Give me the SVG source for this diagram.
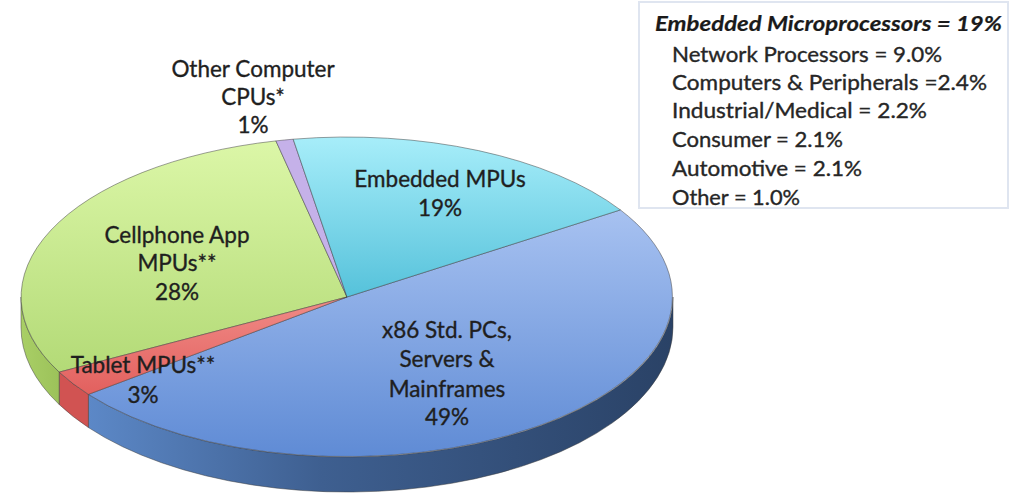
<svg xmlns="http://www.w3.org/2000/svg" width="1017" height="496" viewBox="0 0 1017 496">
  <defs>
    <style>
      .lbl { font-family: Lato, "Open Sans", "Liberation Sans", sans-serif; font-size: 22.5px; fill: #1f1f1f; stroke: #1f1f1f; stroke-width: 0.35; text-anchor: middle; }
      .leg { font-family: Lato, "Open Sans", "Liberation Sans", sans-serif; font-size: 21px; fill: #262626; stroke: #262626; stroke-width: 0.35; }
      .legT { font-weight: bold; font-style: italic; fill: #1a1a1a; stroke-width: 0.2; }
      .edge { stroke: #3d3d3d; stroke-opacity: 0.55; stroke-width: 0.9; stroke-linejoin: round; }
    </style>
    <!-- top-face fills -->
    <linearGradient id="gBlueTop" gradientUnits="userSpaceOnUse" x1="0" y1="190" x2="0" y2="457">
      <stop offset="0" stop-color="#adc6f3"/>
      <stop offset="1" stop-color="#5f8bd5"/>
    </linearGradient>
    <linearGradient id="gCyanTop" gradientUnits="userSpaceOnUse" x1="0" y1="135" x2="0" y2="300">
      <stop offset="0" stop-color="#a8eefa"/>
      <stop offset="1" stop-color="#54c1da"/>
    </linearGradient>
    <linearGradient id="gGreenTop" gradientUnits="userSpaceOnUse" x1="0" y1="138" x2="0" y2="390">
      <stop offset="0" stop-color="#dcf7a8"/>
      <stop offset="1" stop-color="#b0d873"/>
    </linearGradient>
    <linearGradient id="gRedTop" gradientUnits="userSpaceOnUse" x1="0" y1="300" x2="0" y2="395">
      <stop offset="0" stop-color="#f08a86"/>
      <stop offset="1" stop-color="#e2605e"/>
    </linearGradient>
    <!-- side fills -->
    <linearGradient id="gBlueSide" gradientUnits="userSpaceOnUse" x1="88" y1="0" x2="673" y2="0">
      <stop offset="0" stop-color="#5c88c7"/>
      <stop offset="0.4" stop-color="#3e5f90"/>
      <stop offset="1" stop-color="#2a4266"/>
    </linearGradient>
    <linearGradient id="gGreenSide" gradientUnits="userSpaceOnUse" x1="21" y1="0" x2="59" y2="0">
      <stop offset="0" stop-color="#a9cf66"/>
      <stop offset="1" stop-color="#9cc25a"/>
    </linearGradient>
  </defs>

  <rect width="1017" height="496" fill="#ffffff"/>

  <!-- pie rim (front side walls) -->
  <g id="pie-sides" class="edge">
    <path d="M673,297 A326,160 0 0 1 88.4,394.4 L88.4,427.5 A326,165 0 0 0 673,327 Z" fill="url(#gBlueSide)"/>
    <path d="M88.4,394.4 A326,160 0 0 1 59.2,372.1 L59.2,404.5 A326,165 0 0 0 88.4,427.5 Z" fill="#d15352"/>
    <path d="M59.2,372.1 A326,160 0 0 1 21,297 L21,327 A326,165 0 0 0 59.2,404.5 Z" fill="url(#gGreenSide)"/>
  </g>

  <!-- x86 slice, 49% -->
  <g id="slice-x86">
    <path class="edge" d="M347,297 L620.4,209.9 A326,160 0 0 1 88.4,394.4 Z" fill="url(#gBlueTop)"/>
    <text class="lbl" x="447" y="338">x86 Std. PCs,</text>
    <text class="lbl" x="447" y="367">Servers &amp;</text>
    <text class="lbl" x="447" y="397">Mainframes</text>
    <text class="lbl" x="447" y="425">49%</text>
  </g>

  <!-- cellphone slice, 28% -->
  <g id="slice-cellphone">
    <path class="edge" d="M347,297 L59.2,372.1 A326,160 0 0 1 275.9,140.9 Z" fill="url(#gGreenTop)"/>
    <text class="lbl" x="177" y="243">Cellphone App</text>
    <text class="lbl" x="177" y="271">MPUs**</text>
    <text class="lbl" x="177" y="300">28%</text>
  </g>

  <!-- other computer CPUs slice, 1% -->
  <g id="slice-other">
    <path class="edge" d="M347,297 L275.9,140.9 A326,160 0 0 1 293.2,139.2 Z" fill="#c5b1e9"/>
    <text class="lbl" x="253" y="77">Other Computer</text>
    <text class="lbl" x="253" y="105">CPUs*</text>
    <text class="lbl" x="253" y="133">1%</text>
  </g>

  <!-- embedded slice, 19% -->
  <g id="slice-embedded">
    <path class="edge" d="M347,297 L293.2,139.2 A326,160 0 0 1 620.4,209.9 Z" fill="url(#gCyanTop)"/>
    <text class="lbl" x="440" y="187">Embedded MPUs</text>
    <text class="lbl" x="440" y="216">19%</text>
  </g>

  <!-- tablet slice, 3%; drawn last so its label sits over the neighbours -->
  <g id="slice-tablet">
    <path class="edge" d="M347,297 L88.4,394.4 A326,160 0 0 1 59.2,372.1 Z" fill="url(#gRedTop)"/>
    <text class="lbl" x="143" y="373">Tablet MPUs**</text>
    <text class="lbl" x="143" y="403">3%</text>
  </g>

  <!-- connectors: none in this chart -->
  <g id="connectors"/>

  <!-- breakdown of the embedded share -->
  <g id="legend">
    <rect x="639" y="2" width="369" height="206" fill="#ffffff" stroke="#dfe5f0" stroke-width="2"/>
    <text class="leg legT" x="655" y="31" textLength="347" lengthAdjust="spacingAndGlyphs">Embedded Microprocessors = 19%</text>
    <text class="leg" x="672" y="62" textLength="270" lengthAdjust="spacingAndGlyphs">Network Processors = 9.0%</text>
    <text class="leg" x="672" y="90" textLength="315" lengthAdjust="spacingAndGlyphs">Computers &amp; Peripherals =2.4%</text>
    <text class="leg" x="672" y="118" textLength="255" lengthAdjust="spacingAndGlyphs">Industrial/Medical = 2.2%</text>
    <text class="leg" x="672" y="147" textLength="171" lengthAdjust="spacingAndGlyphs">Consumer = 2.1%</text>
    <text class="leg" x="672" y="176" textLength="190" lengthAdjust="spacingAndGlyphs">Automotive = 2.1%</text>
    <text class="leg" x="672" y="205" textLength="128" lengthAdjust="spacingAndGlyphs">Other = 1.0%</text>
  </g>
</svg>
